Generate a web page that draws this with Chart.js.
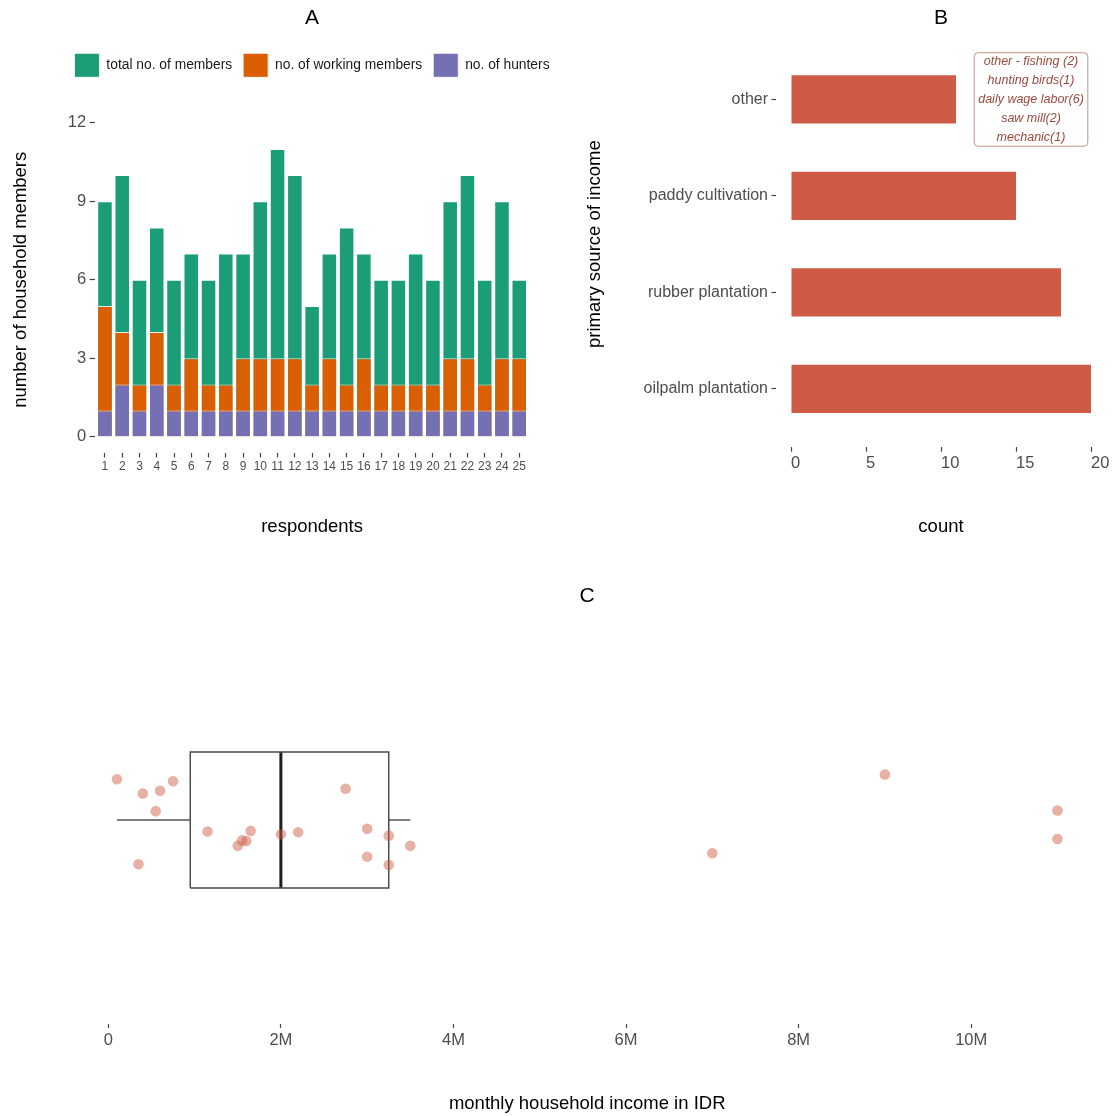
<!DOCTYPE html>
<html>
<head>
<meta charset="utf-8">
<script src="https://cdn.jsdelivr.net/npm/chart.js@4.4.1/dist/chart.umd.min.js"></script>
<style>
  html, body { margin: 0; padding: 0; background: #fff; }
  body { width: 1118px; height: 1116px; position: relative; overflow: hidden; }
  .panel { position: absolute; }
  .panel canvas { display: block; }
</style>
</head>
<body>
<div class="panel" style="left:0;top:0;"><canvas id="chartA" width="624" height="545"></canvas></div>
<div class="panel" style="left:560px;top:0;"><canvas id="chartB" width="558" height="545"></canvas></div>
<div class="panel" style="left:0;top:570px;"><canvas id="chartC" width="1118" height="546"></canvas></div>
<script>
// ---- A: household composition of each respondent ----
const respondents    = [1,2,3,4,5,6,7,8,9,10,11,12,13,14,15,16,17,18,19,20,21,22,23,24,25];
const totalMembers   = [9,10,6,8,6,7,6,7,7,9,11,10,5,7,8,7,6,6,7,6,9,10,6,9,6];
const workingMembers = [5,4,2,4,2,3,2,2,3,3,3,3,2,3,2,3,2,2,2,2,3,3,2,3,3];
const huntersCount   = [1,2,1,2,1,1,1,1,1,1,1,1,1,1,1,1,1,1,1,1,1,1,1,1,1];
const memberTicks    = [0,3,6,9,12];

// ---- B: primary source of income (bottom to top) ----
const incomeSources = ['oilpalm plantation', 'rubber plantation', 'paddy cultivation', 'other'];
const sourceCounts  = [20, 18, 15, 11];
const countTicks    = [0, 5, 10, 15, 20];
const otherSourceLines = ['other - fishing (2)', 'hunting birds(1)', 'daily wage labor(6)', 'saw mill(2)', 'mechanic(1)'];
const noteAt = { count: 16, source: 'other' };

// ---- C: monthly household income (IDR) with vertical jitter ----
const monthlyIncome = [100000, 350000, 400000, 550000, 600000, 750000, 1150000, 1500000, 1550000,
  1600000, 1650000, 2000000, 2200000, 2750000, 3000000, 3000000, 3250000, 3250000, 3500000,
  7000000, 9000000, 11000000, 11000000];
const incomeJitter = [0.60, -0.65, 0.39, 0.13, 0.43, 0.57, -0.17, -0.38, -0.30,
  -0.31, -0.16, -0.21, -0.18, 0.46, -0.54, -0.13, -0.23, -0.66, -0.38,
  -0.49, 0.67, 0.14, -0.28];
const incomeTicks = [0, 2000000, 4000000, 6000000, 8000000, 10000000];

const FAMILY = "'Liberation Sans', Arial, Helvetica, sans-serif";
const TICK_GREY = '#4d4d4d';
const TICK_MARK = '#444444';

// Panel letter drawn centred over the plotting area
const panelTitle = {
  id: 'panelTitle',
  afterDraw(chart, args, opts) {
    const { ctx, chartArea } = chart;
    ctx.save();
    ctx.font = `21px ${FAMILY}`;
    ctx.fillStyle = '#000';
    ctx.textAlign = 'center';
    ctx.textBaseline = 'middle';
    ctx.fillText(opts.text, (chartArea.left + chartArea.right) / 2, opts.y);
    ctx.restore();
  }
};

// Labelled box listing the "other" income sources
const sourceNote = {
  id: 'sourceNote',
  afterDatasetsDraw(chart, args, opts) {
    const { ctx } = chart;
    const cx = chart.scales.x.getPixelForValue(opts.x);
    const cy = chart.scales.y.getPixelForValue(opts.y);
    const lineH = 19;
    ctx.save();
    ctx.font = `italic 12.5px ${FAMILY}`;
    const textW = Math.max(...opts.lines.map(t => ctx.measureText(t).width));
    const w = textW + 8;
    const h = opts.lines.length * lineH - 1.5;
    const x0 = cx - w / 2, y0 = cy - h / 2;
    ctx.beginPath();
    ctx.roundRect(x0, y0, w, h, 4);
    ctx.fillStyle = '#ffffff';
    ctx.fill();
    ctx.lineWidth = 1;
    ctx.strokeStyle = 'rgba(160, 75, 62, 0.6)';
    ctx.stroke();
    ctx.fillStyle = '#9c4a3e';
    ctx.textAlign = 'center';
    ctx.textBaseline = 'middle';
    opts.lines.forEach((t, i) => {
      ctx.fillText(t, cx, cy + (i - (opts.lines.length - 1) / 2) * lineH);
    });
    ctx.restore();
  }
};

function tickGrid(len) {
  return { display: true, offset: false, drawOnChartArea: false, drawTicks: true,
    tickLength: len, tickColor: TICK_MARK, tickWidth: 1.2 };
}
function axisTitle(text, padding) {
  return { display: true, text, color: '#000', font: { family: FAMILY, size: 18.5 }, padding };
}
function hiddenAxis(position, size) {
  return {
    type: 'linear', position, display: true,
    grid: { display: false }, border: { display: false }, ticks: { display: false },
    afterFit(s) { if (s.isHorizontal()) s.height = size; else s.width = size; }
  };
}

// ================= A =================
const barStyle = { grouped: false, barPercentage: 0.9, categoryPercentage: 1,
  borderColor: 'rgba(255,255,255,0.85)', borderWidth: 1 };

new Chart(document.getElementById('chartA'), {
  type: 'bar',
  plugins: [panelTitle],
  data: {
    datasets: [
      Object.assign({ label: 'total no. of members', order: 3, backgroundColor: '#1B9E77',
        data: respondents.map((r, i) => ({ x: r, y: totalMembers[i] })) }, barStyle),
      Object.assign({ label: 'no. of working members', order: 2, backgroundColor: '#D95F02',
        data: respondents.map((r, i) => ({ x: r, y: workingMembers[i] })) }, barStyle),
      Object.assign({ label: 'no. of hunters', order: 1, backgroundColor: '#7570B3',
        data: respondents.map((r, i) => ({ x: r, y: huntersCount[i] })) }, barStyle)
    ]
  },
  options: {
    responsive: false,
    animation: false,
    devicePixelRatio: 1,
    layout: { padding: { left: 0, right: 0, top: 42.3, bottom: 0 } },
    plugins: {
      panelTitle: { text: 'A', y: 18 },
      tooltip: { enabled: false },
      legend: {
        position: 'top',
        labels: {
          boxWidth: 25, boxHeight: 24, padding: 11, color: '#1a1a1a',
          font: { family: FAMILY, size: 13.8 },
          sort: (a, b) => a.datasetIndex - b.datasetIndex
        }
      }
    },
    scales: {
      x: {
        type: 'linear', min: 0.4, max: 25.6, offset: false,
        afterBuildTicks(s) { s.ticks = respondents.map(v => ({ value: v })); },
        afterFit(s) { s.height = 545 - 452.5; s.paddingLeft = 0; s.paddingRight = 0; },
        grid: tickGrid(5), border: { display: false },
        ticks: { color: TICK_GREY, font: { family: FAMILY, size: 12 }, padding: 2.3, autoSkip: false, maxRotation: 0 },
        title: axisTitle('respondents', { top: 0, bottom: 7 })
      },
      y: {
        type: 'linear', min: -0.6, max: 12.6,
        afterBuildTicks(s) { s.ticks = memberTicks.map(v => ({ value: v })); },
        afterFit(s) { s.width = 94.6; s.paddingTop = 0; s.paddingBottom = 0; },
        grid: tickGrid(5), border: { display: false },
        ticks: { color: TICK_GREY, font: { family: FAMILY, size: 16.5 }, padding: 3.5 },
        title: axisTitle('number of household members', { top: 10, bottom: 0 })
      },
      gapTop: hiddenAxis('top', 19.7),
      gapRight: hiddenAxis('right', 624 - 529.6)
    }
  }
});

// ================= B =================
new Chart(document.getElementById('chartB'), {
  type: 'bar',
  plugins: [panelTitle, sourceNote],
  data: {
    datasets: [{
      label: 'count',
      data: sourceCounts.map((c, i) => ({ x: c, y: i + 1 })),
      backgroundColor: '#CD5B45',
      borderWidth: 0,
      grouped: false, barPercentage: 0.5, categoryPercentage: 1
    }]
  },
  options: {
    indexAxis: 'y',
    responsive: false,
    animation: false,
    devicePixelRatio: 1,
    layout: { padding: { left: 0, right: 12, top: 41.6, bottom: 0 } },
    plugins: {
      panelTitle: { text: 'B', y: 18 },
      sourceNote: { x: noteAt.count, y: incomeSources.indexOf(noteAt.source) + 1, lines: otherSourceLines },
      legend: { display: false },
      tooltip: { enabled: false }
    },
    scales: {
      x: {
        type: 'linear', min: -1, max: 21, offset: false,
        afterBuildTicks(s) { s.ticks = countTicks.map(v => ({ value: v })); },
        afterFit(s) { s.height = 545 - 446.7; s.paddingLeft = 0; s.paddingRight = 0; },
        grid: tickGrid(5), border: { display: false },
        ticks: { color: TICK_GREY, font: { family: FAMILY, size: 16.5 }, padding: 1.4, align: 'start', maxRotation: 0 },
        title: axisTitle('count', { top: 0, bottom: 7 })
      },
      y: {
        type: 'linear', min: 0.4, max: 4.6, offset: false,
        afterBuildTicks(s) { s.ticks = incomeSources.map((_, i) => ({ value: i + 1 })); },
        afterFit(s) { s.width = 216; s.paddingTop = 0; s.paddingBottom = 0; },
        grid: tickGrid(4.5), border: { display: false },
        ticks: { color: TICK_GREY, font: { family: FAMILY, size: 16 }, padding: 3.5,
          callback: v => incomeSources[Math.round(v) - 1] },
        title: axisTitle('primary source of income', { top: 24, bottom: 0 })
      }
    }
  }
});

// ================= C =================
function quantile(sorted, p) {
  const h = (sorted.length - 1) * p;
  const lo = Math.floor(h);
  const hi = Math.min(lo + 1, sorted.length - 1);
  return sorted[lo] + (h - lo) * (sorted[hi] - sorted[lo]);
}
const sortedIncome = monthlyIncome.slice().sort((a, b) => a - b);
const q1 = quantile(sortedIncome, 0.25);
const med = quantile(sortedIncome, 0.5);
const q3 = quantile(sortedIncome, 0.75);
const iqr = q3 - q1;
const whiskerLo = sortedIncome.find(v => v >= q1 - 1.5 * iqr);
const whiskerHi = sortedIncome.filter(v => v <= q3 + 1.5 * iqr).pop();
const incomeSpan = sortedIncome[sortedIncome.length - 1] - sortedIncome[0];
const BOX_HALF = 1;

const lineSet = (data, color, width) => ({
  data, showLine: true, pointRadius: 0, borderColor: color, borderWidth: width,
  backgroundColor: 'transparent', fill: false, order: 1, tension: 0
});

new Chart(document.getElementById('chartC'), {
  type: 'scatter',
  plugins: [panelTitle],
  data: {
    datasets: [
      {
        label: 'income',
        data: monthlyIncome.map((v, i) => ({ x: v, y: incomeJitter[i] })),
        pointRadius: 5.3, pointHoverRadius: 5.3,
        backgroundColor: 'rgba(205, 91, 69, 0.48)', borderWidth: 0, order: 0
      },
      lineSet([{ x: whiskerLo, y: 0 }, { x: q1, y: 0 }], '#555555', 1.5),
      lineSet([{ x: q3, y: 0 }, { x: whiskerHi, y: 0 }], '#555555', 1.5),
      lineSet([{ x: q1, y: -BOX_HALF }, { x: q3, y: -BOX_HALF }, { x: q3, y: BOX_HALF },
               { x: q1, y: BOX_HALF }, { x: q1, y: -BOX_HALF }], '#4a4a4a', 1.5),
      lineSet([{ x: med, y: -BOX_HALF }, { x: med, y: BOX_HALF }], '#1f1f1f', 3)
    ]
  },
  options: {
    responsive: false,
    animation: false,
    devicePixelRatio: 1,
    layout: { padding: { left: 69.9, right: 13.5, top: 46, bottom: 0 } },
    plugins: {
      panelTitle: { text: 'C', y: 26 },
      legend: { display: false },
      tooltip: { enabled: false }
    },
    scales: {
      x: {
        type: 'linear',
        min: sortedIncome[0] - 0.05 * incomeSpan,
        max: sortedIncome[sortedIncome.length - 1] + 0.05 * incomeSpan,
        afterBuildTicks(s) { s.ticks = incomeTicks.map(v => ({ value: v })); },
        afterFit(s) { s.height = 546 - 454; s.paddingLeft = 0; s.paddingRight = 0; },
        grid: tickGrid(4), border: { display: false },
        ticks: { color: TICK_GREY, font: { family: FAMILY, size: 16.5 }, padding: 3, maxRotation: 0,
          callback: v => v === 0 ? '0' : (v / 1000000) + 'M' },
        title: axisTitle('monthly household income in IDR', { top: 0, bottom: 1 })
      },
      y: { type: 'linear', display: false, min: -3, max: 3 }
    }
  }
});
</script>
</body>
</html>
